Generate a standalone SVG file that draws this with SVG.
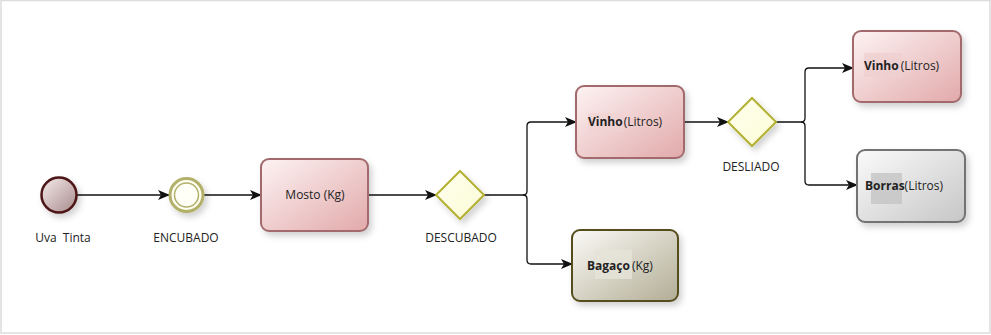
<svg xmlns="http://www.w3.org/2000/svg" width="991" height="335" viewBox="0 0 991 335">
<defs>
<style>
text{font-family:"Open Sans","Noto Sans","DejaVu Sans",sans-serif;font-size:12px;fill:#222}
.lbl{text-anchor:middle}
.b{font-weight:bold}
.conn{fill:none;stroke:#111;stroke-width:1.3}
.task{stroke-width:2}
.dia{fill:url(#gDia);stroke:#b3b033;stroke-width:2}
</style>
<linearGradient id="gPink" x1="0" y1="0" x2="1" y2="1">
<stop offset="0" stop-color="#fdf3f3"/><stop offset="1" stop-color="#e2a9aa"/>
</linearGradient>
<linearGradient id="gOlive" x1="0" y1="0" x2="1" y2="1">
<stop offset="0" stop-color="#fbfaf6"/><stop offset="1" stop-color="#b2ad95"/>
</linearGradient>
<linearGradient id="gGray" x1="0" y1="0" x2="1" y2="1">
<stop offset="0" stop-color="#fbfbfb"/><stop offset="1" stop-color="#c6c6c6"/>
</linearGradient>
<linearGradient id="gStart" x1="0" y1="0" x2="1" y2="1">
<stop offset="0" stop-color="#f6ecec"/><stop offset="1" stop-color="#a88a8b"/>
</linearGradient>
<linearGradient id="gDia" x1="0" y1="0" x2="1" y2="1">
<stop offset="0" stop-color="#ffffef"/><stop offset="1" stop-color="#fbfbd6"/>
</linearGradient>
<filter id="sh" x="-20%" y="-20%" width="150%" height="150%">
<feDropShadow dx="3" dy="4" stdDeviation="3" flood-color="#000" flood-opacity="0.18"/>
</filter>
<marker id="arr" viewBox="0 0 12 10" refX="11" refY="5" markerWidth="12" markerHeight="10" markerUnits="userSpaceOnUse" orient="auto">
<path d="M0,0 L12,5 L0,10 L3,5 Z" fill="#111"/>
</marker>
</defs>
<rect x="1" y="0.5" width="989" height="332.5" fill="#fff" stroke="#dcdcdc" stroke-width="1.5"/>

<g id="connectors">
<path class="conn" d="M77,195 H169" marker-end="url(#arr)"/>
<path class="conn" d="M204,195 H261" marker-end="url(#arr)"/>
<path class="conn" d="M368,195 H436" marker-end="url(#arr)"/>
<path class="conn" d="M484,195 H523 q4,0 4,-4 V126 q0,-4 4,-4 H576" marker-end="url(#arr)"/>
<path class="conn" d="M523,195 q4,0 4,4 V260 q0,4 4,4 H572" marker-end="url(#arr)"/>
<path class="conn" d="M684,122 H728" marker-end="url(#arr)"/>
<path class="conn" d="M776,122 H801 q4,0 4,-4 V72 q0,-4 4,-4 H853" marker-end="url(#arr)"/>
<path class="conn" d="M801,122 q4,0 4,4 V181 q0,4 4,4 H857" marker-end="url(#arr)"/>
</g>

<g id="uva-tinta">
<circle cx="59" cy="195" r="17.5" fill="url(#gStart)" stroke="#4d1416" stroke-width="2.5" filter="url(#sh)"/>
<text class="lbl" x="63" y="242" xml:space="preserve">Uva  Tinta</text>
</g>

<g id="encubado">
<circle cx="186.5" cy="195" r="16.5" fill="#fffff4" stroke="#b3b06a" stroke-width="3" filter="url(#sh)"/>
<circle cx="186.5" cy="195" r="12" fill="#fffff8" stroke="#b3b06a" stroke-width="1.5"/>
<text class="lbl" x="186" y="242">ENCUBADO</text>
</g>

<g id="mosto">
<rect class="task" x="261" y="159" width="107" height="72" rx="8" fill="url(#gPink)" stroke="#a36b6d" filter="url(#sh)"/>
<text class="lbl" x="315" y="199">Mosto (Kg)</text>
</g>

<g id="descubado">
<path class="dia" d="M460,171 L484,195 L460,219 L436,195 Z" filter="url(#sh)"/>
<text class="lbl" x="461" y="242">DESCUBADO</text>
</g>

<g id="vinho1">
<rect class="task" x="576" y="86" width="108" height="72" rx="8" fill="url(#gPink)" stroke="#a36b6d" filter="url(#sh)"/>
<rect x="588" y="113" width="36" height="19" fill="#f0d2d2" opacity="0.6"/>
<text x="588" y="126"><tspan class="b">Vinho</tspan><tspan dx="1">(Litros)</tspan></text>
</g>

<g id="bagaco">
<rect class="task" x="572" y="230" width="106" height="71" rx="8" fill="url(#gOlive)" stroke="#574d1e" filter="url(#sh)"/>
<rect x="595" y="250" width="37" height="29" fill="#e6e3d8" opacity="0.8"/>
<text x="587" y="270"><tspan class="b">Bagaço</tspan><tspan dx="2">(Kg)</tspan></text>
</g>

<g id="desliado">
<path class="dia" d="M752,98 L776,122 L752,146 L728,122 Z" filter="url(#sh)"/>
<text class="lbl" x="751" y="171">DESLIADO</text>
</g>

<g id="vinho2">
<rect class="task" x="853" y="31" width="108" height="71" rx="8" fill="url(#gPink)" stroke="#a36b6d" filter="url(#sh)"/>
<rect x="864" y="53" width="38" height="24" fill="#efd0d0" opacity="0.8"/>
<text x="864" y="70"><tspan class="b">Vinho</tspan><tspan dx="2">(Litros)</tspan></text>
</g>

<g id="borras">
<rect class="task" x="857" y="150" width="108" height="72" rx="8" fill="url(#gGray)" stroke="#737373" filter="url(#sh)"/>
<rect x="871" y="173" width="31" height="31" fill="#c4c4c4" opacity="0.8"/>
<text x="865" y="190"><tspan class="b">Borras</tspan><tspan>(Litros)</tspan></text>
</g>
</svg>
